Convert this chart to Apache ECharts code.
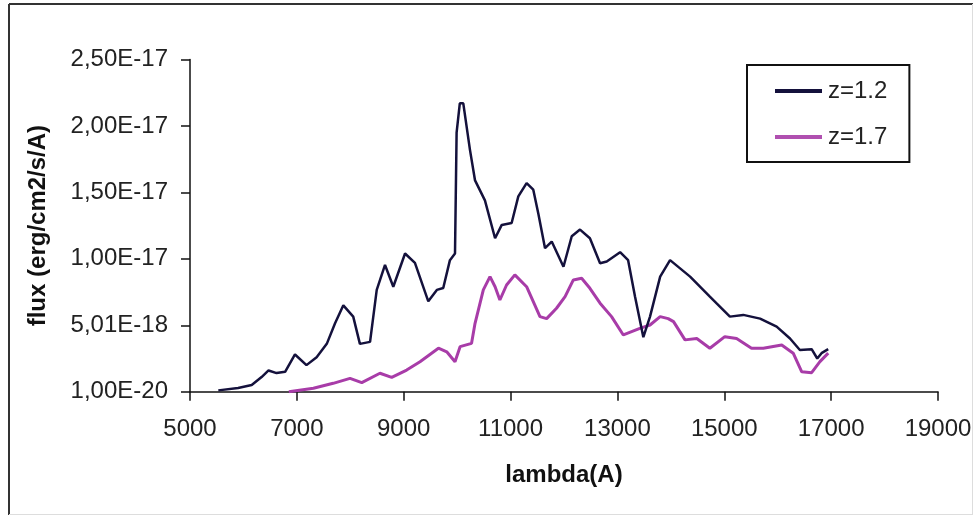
<!DOCTYPE html>
<html>
<head>
<meta charset="utf-8">
<script src="https://cdn.jsdelivr.net/npm/echarts@6/dist/echarts.min.js"></script>
<style>
html,body{margin:0;padding:0;background:#fff;}
#chart{width:973px;height:515px;}
</style>
</head>
<body>
<div id="chart"></div>
<script>
// z=1.2 spectrum (lambda in Angstrom, flux in erg/cm2/s/A)
const lambdaZ12 = [5530,5900,6155,6340,6470,6620,6780,6965,7180,7370,7560,7715,7870,8055,8180,8370,8495,8650,8805,9025,9210,9460,9620,9740,9865,9960,9990,10050,10115,10240,10335,10520,10710,10835,11020,11145,11300,11425,11520,11645,11770,11990,12145,12300,12485,12675,12800,13050,13200,13330,13485,13610,13800,13985,14360,14730,15105,15355,15670,15980,16230,16415,16635,16740,16820,16945];
const fluxZ12 = [0.1e-18,0.28e-18,0.5e-18,1.1e-18,1.6e-18,1.4e-18,1.5e-18,2.8e-18,2.0e-18,2.6e-18,3.6e-18,5.15e-18,6.5e-18,5.65e-18,3.6e-18,3.75e-18,7.66e-18,9.54e-18,7.9e-18,10.4e-18,9.7e-18,6.8e-18,7.66e-18,7.8e-18,9.9e-18,10.4e-18,19.5e-18,21.7e-18,21.7e-18,18.2e-18,15.9e-18,14.4e-18,11.55e-18,12.55e-18,12.7e-18,14.7e-18,15.7e-18,15.2e-18,13.4e-18,10.8e-18,11.3e-18,9.4e-18,11.7e-18,12.2e-18,11.55e-18,9.67e-18,9.8e-18,10.5e-18,9.9e-18,7.15e-18,4.1e-18,5.65e-18,8.66e-18,9.9e-18,8.66e-18,7.15e-18,5.65e-18,5.78e-18,5.5e-18,4.9e-18,4.0e-18,3.14e-18,3.2e-18,2.5e-18,2.9e-18,3.2e-18];

// z=1.7 spectrum
const lambdaZ17 = [6850,7310,7680,7995,8215,8555,8775,9055,9305,9650,9805,9960,10055,10270,10335,10490,10615,10710,10800,10925,11080,11300,11550,11675,11860,12020,12175,12330,12485,12675,12890,13110,13265,13420,13610,13800,13950,14050,14265,14485,14730,15010,15230,15510,15730,16075,16290,16450,16635,16790,16945];
const fluxZ17 = [0.0,0.26e-18,0.63e-18,1.0e-18,0.68e-18,1.39e-18,1.08e-18,1.63e-18,2.26e-18,3.27e-18,3.0e-18,2.26e-18,3.39e-18,3.64e-18,5.15e-18,7.66e-18,8.66e-18,7.9e-18,6.9e-18,8.03e-18,8.79e-18,7.9e-18,5.65e-18,5.5e-18,6.28e-18,7.15e-18,8.41e-18,8.54e-18,7.78e-18,6.66e-18,5.65e-18,4.27e-18,4.52e-18,4.77e-18,5.02e-18,5.65e-18,5.5e-18,5.27e-18,3.9e-18,4.0e-18,3.27e-18,4.14e-18,4.0e-18,3.27e-18,3.27e-18,3.52e-18,2.9e-18,1.5e-18,1.43e-18,2.26e-18,2.9e-18];

const yTickLabels = ['1,00E-20','5,01E-18','1,00E-17','1,50E-17','2,00E-17','2,50E-17'];
const xTickLabels = ['5000','7000','9000','11000','13000','15000','17000','19000'];
const seriesNames = ['z=1.2','z=1.7'];

const zip = (xs, ys) => xs.map((x, i) => [x, ys[i]]);
const FONT = "'Liberation Sans', Arial, sans-serif";

const chart = echarts.init(document.getElementById('chart'), null, {renderer: 'canvas'});
chart.setOption({
  backgroundColor: '#ffffff',
  animation: false,
  grid: {left: 190, right: 35, top: 59.5, bottom: 123.3, outerBoundsMode: 'none', containLabel: false},
  legend: {
    data: seriesNames,
    orient: 'vertical',
    left: 747, top: 65,
    padding: [14, 22, 13, 28],
    itemGap: 22,
    itemWidth: 47,
    itemHeight: 4,
    icon: 'rect',
    borderColor: '#111',
    borderWidth: 2,
    borderRadius: 0,
    textStyle: {fontFamily: FONT, fontSize: 24, color: '#222', padding: [0,0,0,1]}
  },
  xAxis: {
    type: 'value', min: 5000, max: 19000, interval: 2000,
    name: 'lambda(A)', nameLocation: 'middle', nameGap: 72,
    nameTextStyle: {fontFamily: FONT, fontSize: 24, fontWeight: 'bold', color: '#111'},
    axisLine: {show: true, lineStyle: {color: '#111', width: 1.5}},
    axisTick: {show: true, length: 9, lineStyle: {color: '#111', width: 1.5}},
    axisLabel: {margin: 26, fontFamily: FONT, fontSize: 24, color: '#222',
      formatter: (v, i) => xTickLabels[i]},
    splitLine: {show: false}
  },
  yAxis: {
    type: 'value', min: 0, max: 25e-18, interval: 5e-18,
    name: 'flux (erg/cm2/s/A)', nameLocation: 'middle', nameGap: 140, nameRotate: 90,
    nameTextStyle: {fontFamily: FONT, fontSize: 24, fontWeight: 'bold', color: '#111'},
    axisLine: {show: true, lineStyle: {color: '#111', width: 1.5}},
    axisTick: {show: true, length: 9, lineStyle: {color: '#111', width: 1.5}},
    axisLabel: {margin: 22, fontFamily: FONT, fontSize: 24, color: '#222',
      formatter: (v, i) => yTickLabels[i]},
    splitLine: {show: false}
  },
  series: [
    {name: seriesNames[1], type: 'line', data: zip(lambdaZ17, fluxZ17), showSymbol: false, symbol: 'none',
     lineStyle: {color: '#a83ca8', width: 3}, itemStyle: {color: '#b050b0'}, z: 2},
    {name: seriesNames[0], type: 'line', data: zip(lambdaZ12, fluxZ12), showSymbol: false, symbol: 'none',
     lineStyle: {color: '#14113c', width: 2.5}, itemStyle: {color: '#14113c'}, z: 3}
  ],
  graphic: [
    {type: 'line', shape: {x1: 9, y1: 4, x2: 973, y2: 4}, style: {stroke: '#333', lineWidth: 2}, silent: true},
    {type: 'line', shape: {x1: 9, y1: 4, x2: 9, y2: 515}, style: {stroke: '#333', lineWidth: 2}, silent: true},
    {type: 'line', shape: {x1: 972.5, y1: 4, x2: 972.5, y2: 515}, style: {stroke: '#ddd', lineWidth: 1}, silent: true},
    {type: 'line', shape: {x1: 9, y1: 514.5, x2: 973, y2: 514.5}, style: {stroke: '#ddd', lineWidth: 1}, silent: true}
  ]
});
</script>
</body>
</html>
